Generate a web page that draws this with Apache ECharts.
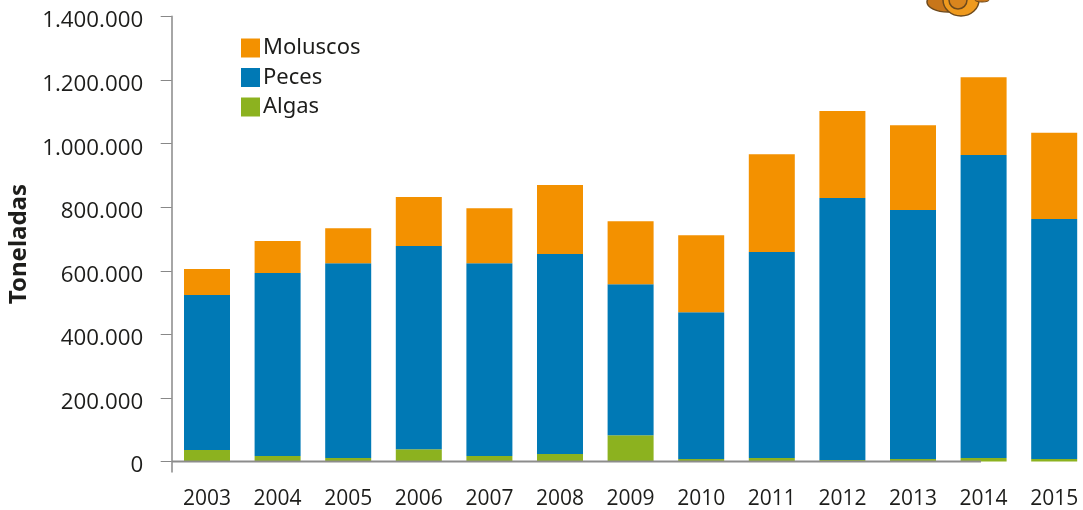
<!DOCTYPE html>
<html>
<head>
<meta charset="utf-8">
<script src="https://cdn.jsdelivr.net/npm/echarts@6/dist/echarts.min.js"></script>
<style>html,body{margin:0;padding:0;background:#fff}#c{width:1083px;height:510px}</style>
</head>
<body>
<div id="c"></div>
<script>
const years = ['2003','2004','2005','2006','2007','2008','2009','2010','2011','2012','2013','2014','2015'];
const algas = [36000,17000,11000,39000,17000,24000,83000,8000,11000,5000,8000,11000,8000];
const peces = [488000,576000,613000,639000,607000,629000,475000,462000,648000,824000,783000,953000,755000];
const moluscos = [82000,101000,110000,154000,173000,217000,198000,242000,308000,274000,267000,245000,271000];
const yTicks = [0,200000,400000,600000,800000,1000000,1200000,1400000];

const FONT = '"Open Sans"';
const TXT = '#1d1d1b';
const chart = echarts.init(document.getElementById('c'), null, {renderer:'canvas'});
const fmt = v => '{a|' + String(v).replace(/\B(?=(\d{3})+$)/g, '.') + '}';
function bar(name, data, color){
  return {name, type:'bar', stack:'t', data, barWidth:46, itemStyle:{color}, animation:false};
}
chart.setOption({
  animation:false,
  textStyle:{fontFamily:FONT},
  grid:{left:171.7, right:-6.5, top:16.5, height:455.2, containLabel:false, outerBoundsMode:'none'},
  legend:{
    left:241, top:37, orient:'vertical', padding:0, itemGap:7.5,
    itemWidth:19, itemHeight:19, icon:'rect',
    data:['Moluscos','Peces','Algas'], selectedMode:false,
    textStyle:{fontFamily:'"Noto Sans"', fontSize:22, color:TXT, padding:[3,0,0,-2]}
  },
  xAxis:{
    type:'category', data:years,
    axisLine:{show:false, onZero:false}, axisTick:{show:false},
    axisLabel:{fontFamily:FONT, fontSize:21, color:TXT, margin:17, interval:0}
  },
  yAxis:{
    type:'value', min:-32000, max:1400000,
    name:'Toneladas', nameLocation:'middle', nameGap:136, nameRotate:90,
    nameTextStyle:{fontFamily:'"Noto Sans"', fontWeight:'bold', fontSize:24, color:TXT},
    splitLine:{show:false},
    axisLine:{show:true, lineStyle:{color:'#a6a6a6', width:2}},
    axisTick:{show:true, length:11, lineStyle:{color:'#888', width:1}, customValues:yTicks},
    axisLabel:{fontFamily:FONT, fontSize:22.3, color:TXT, margin:28.5, customValues:yTicks, formatter:fmt,
      rich:{a:{fontFamily:FONT, fontSize:22.3, color:TXT, padding:[9,0,0,0]}}}
  },
  series:[bar('Algas',algas,'#8cb21f'), bar('Peces',peces,'#0079b5'), bar('Moluscos',moluscos,'#f39100')]
});
const y0 = chart.convertToPixel({yAxisIndex:0}, 0);
chart.setOption({graphic:[
  {type:'line', z:20, shape:{x1:172, y1:y0, x2:981, y2:y0}, style:{stroke:'#8c8c8c', lineWidth:2}},
  {type:'ellipse', shape:{cx:948,cy:2,rx:21,ry:10}, style:{fill:'#c8761a',stroke:'#6e4a1c',lineWidth:1.5}},
  {type:'ellipse', shape:{cx:961,cy:0,rx:18,ry:16}, style:{fill:'#ef9a1e',stroke:'#6e4a1c',lineWidth:1.5}},
  {type:'ellipse', shape:{cx:958,cy:0,rx:9,ry:9}, style:{fill:'#d9851d',stroke:'#6e4a1c',lineWidth:1.5}},
  {type:'ellipse', shape:{cx:982,cy:0,rx:7,ry:2}, style:{fill:'#c8761a',stroke:'#6e4a1c',lineWidth:1}}
]});
</script>
</body>
</html>
